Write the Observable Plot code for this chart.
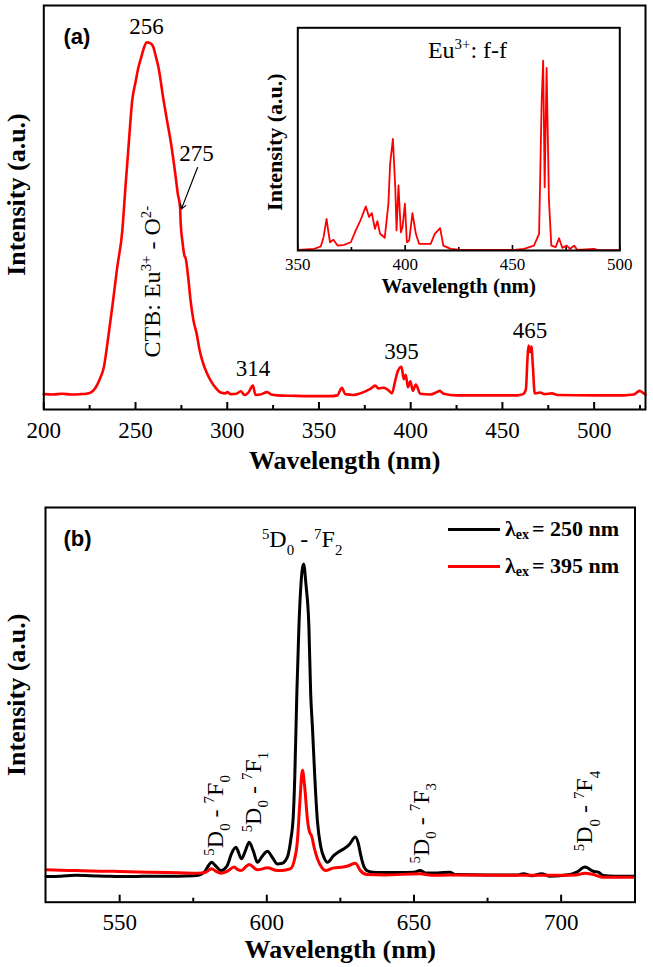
<!DOCTYPE html>
<html>
<head>
<meta charset="utf-8">
<script src="https://cdn.jsdelivr.net/npm/d3@7"></script>
<script src="https://cdn.jsdelivr.net/npm/@observablehq/plot@0.6"></script>
<style>
  html, body { margin: 0; padding: 0; background: #fff; }
  #fig { position: relative; width: 653px; height: 967px; overflow: hidden; background: #fff; }
  #fig > svg { position: absolute; left: 0; }
  #fig text { font-family: "Liberation Serif", "Times New Roman", serif; }
  #fig text.sans, #fig g.sans text { font-family: "Liberation Sans", Arial, sans-serif; }
  .key { position: absolute; display: flex; align-items: center; height: 30px;
         font-family: "Liberation Serif", "Times New Roman", serif; font-weight: bold; font-size: 22px; color: #000; white-space: nowrap; }
  .key .swatch { display: inline-block; width: 52px; height: 3px; margin-right: 5px; }
  .key .sub { font-size: 14px; position: relative; top: 6px; margin-right: 3px; }
</style>
</head>
<body>
<div id="fig"></div>
<script>
// ---------- (a) excitation spectrum, monitored emission ----------
const excWavelength = [200, 205, 210, 215, 220, 223, 225.5, 228.2, 230.5, 232.7, 235.4, 237.5, 240, 242.8, 244.5, 246.5,
  248.2, 250, 251.6, 253, 254.9, 256, 258.2, 259.8, 261, 262.5, 265.3, 267, 269.1, 271.8, 273, 274.3, 274.6, 275.6,
  276.7, 277.3, 278.9, 280, 281.6, 283.3, 284.8, 286.4, 288.7, 290.9, 293.6, 296.4, 299, 300, 302, 305, 307.3, 309.5,
  311.5, 314, 315.4, 318, 321.8, 324, 327.3, 335, 345, 356, 360, 362.5, 364.3, 368.9, 372, 374.3, 378, 380.7, 382.5,
  385.3, 388, 389.8, 391.6, 393, 395, 396.2, 397.3, 398.5, 399.8, 401.2, 402.8, 405.2, 410.7, 414.3, 415.8, 418, 425,
  440, 458, 461.2, 462.8, 463.6, 464.2, 465, 465.8, 466.7, 467.6, 470.7, 473, 477, 480, 500, 516, 521.6, 524.8, 527, 528];
const excIntensity = [3.8, 3.7, 3.9, 3.7, 3.8, 3.9, 4.2, 5.4, 7.5, 10.4, 18.8, 26, 35.1, 44.3, 55, 67,
  76.5, 81, 84.7, 87, 89.9, 90.9, 90.6, 89.6, 87.5, 84.7, 76.5, 72, 66.6, 57.9, 53.5, 50, 46.3, 41.5,
  38, 37.5, 31.9, 27, 22, 18.8, 15, 12.1, 9.2, 7.2, 5.4, 4.2, 4.0, 4.3, 3.8, 3.9, 4.5, 3.6,
  4.2, 5.9, 3.6, 3.7, 4.3, 3.7, 3.5, 3.4, 3.3, 3.3, 3.5, 5.4, 3.8, 3.6, 3.9, 4.3, 5.1, 5.9, 5.2,
  5.4, 4.7, 4.0, 7.2, 9.5, 10.6, 7.5, 8.6, 5.5, 7.0, 4.6, 6.2, 3.9, 3.7, 4.3, 4.6, 3.9, 3.5,
  3.5, 3.5, 3.8, 5.0, 12, 15.8, 14.2, 15.6, 10, 4.0, 4.2, 3.8, 4.0, 3.6, 3.5, 3.5, 3.7, 4.6, 4.0, 3.7];

// peak annotations of panel (a)
const peakWavelengths = [256, 275, 314, 395, 465];
const peakLabelLevels = [93, 61.6, 8.4, 12.6, 17.6];
const peakLabelShift = [0, 8.3, 0, 0, 0];
const shoulderArrow = {x1: 283.8, y1: 59.9, x2: 275, y2: 49.6};
const ctbLabel = {text: "CTB: Eu^{3+} - O^{2-}", x: 263.4, y: 12.9};

const aMajorTicks = [200, 250, 300, 350, 400, 450, 500];
const aMinorTicks = [225, 275, 325, 375, 425, 475, 525];

// ---------- inset: f-f lines of Eu3+ ----------
const ffWavelength = [350, 357.6, 360.7, 362, 363.4, 364.3, 365, 366.6, 368.5, 371.6, 374.7, 377, 379.3, 381.7, 383.2,
  384.5, 385.9, 387.1, 388.3, 390.5, 392.2, 393, 394.3, 395.4, 396, 396.9, 398, 398.8, 399.9, 400.8, 401.9, 403.4,
  405, 406.5, 411.9, 413.8, 416.3, 417.8, 421.2, 425.9, 450.8, 455.4, 460, 462.4, 463.6, 464.3, 465, 465.9, 467,
  468.1, 470.1, 471.7, 473.2, 475.3, 476.8, 478.7, 480.2, 488, 489.5, 500];
const ffIntensity = [0.3, 0.7, 1.8, 6, 14.2, 8, 3.7, 4.8, 2.2, 2.5, 3.7, 9, 13.8, 19.8, 15,
  16.8, 9.7, 13.2, 7.5, 5.7, 21, 38.9, 50.1, 28.4, 9, 29.2, 8.2, 10.5, 21, 3.7, 4.5, 16.8,
  7.5, 3, 3, 7.5, 10, 2.2, 0.7, 0.3, 0.3, 0.7, 2.2, 7.5, 67, 85.3, 28.4, 82, 22.5,
  2.2, 1.5, 5.5, 1.2, 2.2, 0.7, 2.2, 0.3, 0.7, 0.3, 0.2];
const insetMajorTicks = [350, 400, 450, 500];
const insetMinorTicks = [375, 425, 475];

// ---------- (b) emission spectra ----------
const em250Wavelength = [525, 530, 535, 540, 545, 550, 555, 560, 565, 570, 575, 577, 579, 580.2, 581.2, 582.5, 584.4,
  586.5, 588, 589.5, 591.4, 592.8, 594, 595.4, 596.8, 598.5, 600.2, 602, 603.6, 605, 606.4, 607.3, 608.1, 609, 609.5,
  610.2, 610.9, 611.6, 612.5, 613.3, 614.3, 614.9, 615.5, 616.3, 617.2, 618.3, 619.5, 620.6, 622.7, 624.5, 626.1, 628,
  630.1, 631.2, 631.8, 633, 634, 636, 638.6, 645, 650, 652.1, 654, 658, 662.1, 664, 675, 685, 687.2, 690, 693.4, 696,
  703, 705.3, 708.1, 710.9, 712.6, 714.3, 718, 725];
const em250Intensity = [6.5, 6.6, 6.8, 6.7, 6.6, 6.5, 6.5, 6.6, 6.6, 6.6, 6.7, 6.9, 7.8, 9.3, 10.1, 9.3, 8.0,
  9.2, 12.3, 13.9, 11.0, 13.2, 15.2, 13.0, 10.1, 11.7, 12.9, 11.2, 9.7, 9.8, 10.6, 12.2, 15.6, 22, 31.7,
  52.9, 69.7, 80.5, 85.7, 80.5, 69.7, 52.9, 44.3, 31.7, 20.5, 14.2, 11.2, 10.1, 11.8, 12.8, 13.5, 14.6,
  16.5, 14.5, 12.3, 9.0, 8.0, 7.6, 7.5, 7.5, 7.6, 8.0, 7.4, 7.4, 7.6, 7.0, 6.9, 6.9, 7.2, 6.7, 7.2, 6.6,
  7.0, 7.6, 8.9, 7.85, 7.6, 6.8, 6.6, 6.6];
const em395Wavelength = [525, 530, 535, 540, 545, 550, 560, 570, 576.5, 579, 581.2, 582.8, 584.4, 586.5, 588.9, 590,
  591.2, 594, 596.8, 600.2, 603.6, 606, 608.1, 609.3, 610.4, 611.2, 612.1, 612.9, 613.8, 614.5, 615.2, 616.2, 617.2,
  618.5, 620, 622.7, 626, 628, 630.1, 631.8, 634, 640, 652.1, 656, 662, 700, 705, 708.1, 711, 714.3, 725];
const em395Intensity = [8.2, 8.1, 8.0, 7.9, 7.85, 7.8, 7.6, 7.45, 7.35, 7.5, 8.5, 7.8, 7.35, 7.8, 8.9, 8.3,
  8.0, 9.55, 8.2, 8.7, 8.0, 8.1, 8.5, 10.5, 15.6, 25, 33.4, 29, 21, 17.8, 16.8, 13.5, 11,
  9.0, 8.0, 8.7, 8.9, 9.3, 9.9, 8.0, 7.0, 6.9, 7.2, 6.8, 6.9, 6.8, 6.9, 7.35, 7.0, 6.3, 6.3];

// 5D0 -> 7FJ transition labels
const transitionJ = [0, 1, 2, 3, 4];
const transitionX = [585.1, 598, 612, 655, 710.6];
const transitionY = [11.8, 17.7, 89.9, 9.8, 12.9];

const bMajorTicks = [550, 600, 650, 700];
const bMinorTicks = [575, 625, 675];

const seriesNames = ["250", "395"];
const seriesColors = ["#000000", "#ff0000"];

// ---------- helpers ----------
const serif = "'Liberation Serif', 'Times New Roman', serif";
const sans = "'Liberation Sans', Arial, sans-serif";
const rows = (xs, ys) => xs.map((x, i) => ({x, y: ys[i]}));
const svgStyle = {background: "transparent", overflow: "visible", fontFamily: serif};

// turn ^{..} / _{..} markup into superscript / subscript tspans
function applyScripts(root) {
  root.querySelectorAll("text").forEach((t) => {
    const s = t.textContent;
    if (!/[\^_]\{/.test(s)) return;
    const parts = [];
    const re = /([\^_])\{([^}]*)\}|[^\^_]+/g;
    let m;
    while ((m = re.exec(s))) parts.push(m[1] ? {str: m[2], kind: m[1]} : {str: m[0], kind: ""});
    t.textContent = "";
    let cur = 0;
    for (const p of parts) {
      const f = p.kind ? 0.62 : 1;
      const off = p.kind === "^" ? -0.36 : p.kind === "_" ? 0.3 : 0;
      const ts = document.createElementNS("http://www.w3.org/2000/svg", "tspan");
      if (f !== 1) ts.setAttribute("style", `font-size:${f}em`);
      if (off !== cur) ts.setAttribute("dy", `${((off - cur) / f).toFixed(3)}em`);
      cur = off;
      ts.textContent = p.str;
      t.appendChild(ts);
    }
  });
}

const fig = document.getElementById("fig");

// ---------- panel (a) ----------
const aH = 500, aTop = 5, aBottom = 91;
const aInner = aH - aTop - aBottom;
const panelA = Plot.plot({
  width: 653, height: aH,
  marginLeft: 43.3, marginRight: 8, marginTop: aTop, marginBottom: aBottom,
  x: {domain: [200, 528], axis: null},
  y: {domain: [0, 100], axis: null},
  style: svgStyle,
  marks: [
    Plot.ruleX(aMajorTicks, {x: (d) => d, insetTop: aInner - 7, stroke: "#000", strokeWidth: 2}),
    Plot.ruleX(aMinorTicks, {x: (d) => d, insetTop: aInner - 4, stroke: "#000", strokeWidth: 2}),
    Plot.line(rows(excWavelength, excIntensity), {x: "x", y: "y", stroke: "#ff0000", strokeWidth: 2.6, curve: "monotone-x"}),
    Plot.frame({stroke: "#000", strokeWidth: 2}),
    Plot.text(aMajorTicks, {x: (d) => d, text: (d) => String(d), frameAnchor: "bottom", textAnchor: "middle", lineAnchor: "bottom",
      dy: 28, fontSize: 23, fontFamily: serif, fill: "#000"}),
    Plot.text(["Wavelength (nm)"], {frameAnchor: "bottom", textAnchor: "middle", lineAnchor: "bottom", dy: 59,
      fontSize: 26, fontWeight: "bold", fontFamily: serif, fill: "#000"}),
    Plot.text(["Intensity (a.u.)"], {frameAnchor: "left", rotate: -90, textAnchor: "middle", lineAnchor: "bottom",
      dx: -19.3, dy: -13, fontSize: 26, fontWeight: "bold", fontFamily: serif, fill: "#000"}),
    Plot.text(["(a)"], {frameAnchor: "top-left", textAnchor: "start", lineAnchor: "bottom", dx: 19.7, dy: 38.4,
      fontSize: 22, fontWeight: "bold", fontFamily: sans, fill: "#000", className: "sans"}),
    Plot.text(peakWavelengths, {x: (d, i) => d + peakLabelShift[i], y: (d, i) => peakLabelLevels[i], text: (d) => String(d),
      textAnchor: "middle", lineAnchor: "bottom", fontSize: 23, fontFamily: serif, fill: "#000"}),
    Plot.arrow([shoulderArrow], {x1: "x1", y1: "y1", x2: "x2", y2: "y2", stroke: "#000", strokeWidth: 1.2, headLength: 7}),
    Plot.text([ctbLabel], {x: "x", y: "y", text: "text", rotate: -90, textAnchor: "start", lineAnchor: "bottom",
      fontSize: 24, fontFamily: serif, fill: "#000"})
  ]
});
panelA.style.top = "0px";
fig.appendChild(panelA);

// ---------- inset of (a) ----------
const iH = 300, iTop = 27.3, iBottom = 50;
const iInner = iH - iTop - iBottom;
const inset = Plot.plot({
  width: 653, height: iH,
  marginLeft: 297.3, marginRight: 33.7, marginTop: iTop, marginBottom: iBottom,
  x: {domain: [350, 500], axis: null},
  y: {domain: [0, 100], axis: null},
  style: svgStyle,
  marks: [
    Plot.ruleX(insetMajorTicks, {x: (d) => d, insetTop: iInner - 5, stroke: "#000", strokeWidth: 1.6}),
    Plot.ruleX(insetMinorTicks, {x: (d) => d, insetTop: iInner - 3, stroke: "#000", strokeWidth: 1.6}),
    Plot.line(rows(ffWavelength, ffIntensity), {x: "x", y: "y", stroke: "#ff0000", strokeWidth: 1.8}),
    Plot.frame({stroke: "#000", strokeWidth: 2}),
    Plot.text(insetMajorTicks, {x: (d) => d, text: (d) => String(d), frameAnchor: "bottom", textAnchor: "middle", lineAnchor: "bottom",
      dy: 19, fontSize: 17, fontFamily: serif, fill: "#000"}),
    Plot.text(["Wavelength (nm)"], {frameAnchor: "bottom", textAnchor: "middle", lineAnchor: "bottom", dy: 42.5,
      fontSize: 21, fontWeight: "bold", fontFamily: serif, fill: "#000"}),
    Plot.text(["Intensity (a.u.)"], {frameAnchor: "left", rotate: -90, textAnchor: "middle", lineAnchor: "bottom",
      dx: -16.3, dy: 3, fontSize: 22, fontWeight: "bold", fontFamily: serif, fill: "#000"}),
    Plot.text(["Eu^{3+}: f-f"], {frameAnchor: "top", textAnchor: "middle", lineAnchor: "bottom", dx: 8.7, dy: 29.7,
      fontSize: 24, fontFamily: serif, fill: "#000"})
  ]
});
inset.style.top = "0px";
fig.appendChild(inset);

// ---------- panel (b) ----------
const bH = 467, bTop = 7, bBottom = 65.3;
const bInner = bH - bTop - bBottom;
const transitionText = (j) => `^{5}D_{0} - ^{7}F_{${j}}`;
const panelB = Plot.plot({
  width: 653, height: bH,
  marginLeft: 45, marginRight: 18.5, marginTop: bTop, marginBottom: bBottom,
  x: {domain: [524.8, 725.1], axis: null},
  y: {domain: [0, 100], axis: null},
  style: svgStyle,
  marks: [
    Plot.ruleX(bMajorTicks, {x: (d) => d, insetTop: bInner - 7, stroke: "#000", strokeWidth: 2}),
    Plot.ruleX(bMinorTicks, {x: (d) => d, insetTop: bInner - 4, stroke: "#000", strokeWidth: 2}),
    Plot.line(rows(em250Wavelength, em250Intensity), {x: "x", y: "y", stroke: seriesColors[0], strokeWidth: 3, curve: "monotone-x"}),
    Plot.line(rows(em395Wavelength, em395Intensity), {x: "x", y: "y", stroke: seriesColors[1], strokeWidth: 3, curve: "monotone-x"}),
    Plot.frame({stroke: "#000", strokeWidth: 2}),
    Plot.text(bMajorTicks, {x: (d) => d, text: (d) => String(d), frameAnchor: "bottom", textAnchor: "middle", lineAnchor: "bottom",
      dy: 28, fontSize: 23, fontFamily: serif, fill: "#000"}),
    Plot.text(["Wavelength (nm)"], {frameAnchor: "bottom", textAnchor: "middle", lineAnchor: "bottom", dy: 55.3,
      fontSize: 26, fontWeight: "bold", fontFamily: serif, fill: "#000"}),
    Plot.text(["Intensity (a.u.)"], {frameAnchor: "left", rotate: -90, textAnchor: "middle", lineAnchor: "bottom",
      dx: -21, dy: -10, fontSize: 26, fontWeight: "bold", fontFamily: serif, fill: "#000"}),
    Plot.text(["(b)"], {frameAnchor: "top-left", textAnchor: "start", lineAnchor: "bottom", dx: 18, dy: 38.5,
      fontSize: 22, fontWeight: "bold", fontFamily: sans, fill: "#000", className: "sans"}),
    Plot.text(transitionJ.filter((j) => j !== 2), {
      x: (j) => transitionX[j], y: (j) => transitionY[j], text: transitionText, rotate: -90,
      textAnchor: "start", lineAnchor: "bottom", fontSize: 24, fontFamily: serif, fill: "#000"}),
    Plot.text(transitionJ.filter((j) => j === 2), {
      x: (j) => transitionX[j], y: (j) => transitionY[j], text: transitionText,
      textAnchor: "middle", lineAnchor: "bottom", fontSize: 24, fontFamily: serif, fill: "#000"})
  ]
});
panelB.style.top = "500px";
fig.appendChild(panelB);

applyScripts(fig);

// legend of (b): excitation wavelengths
const keyTops = [514.3, 551];
seriesNames.forEach((name, i) => {
  const row = document.createElement("div");
  row.className = "key";
  row.style.left = "448px";
  row.style.top = keyTops[i] + "px";
  row.innerHTML = `<span class="swatch" style="background:${seriesColors[i]}"></span>` +
    `<span>λ</span><span class="sub">ex</span><span>= ${name} nm</span>`;
  fig.appendChild(row);
});
</script>
</body>
</html>
